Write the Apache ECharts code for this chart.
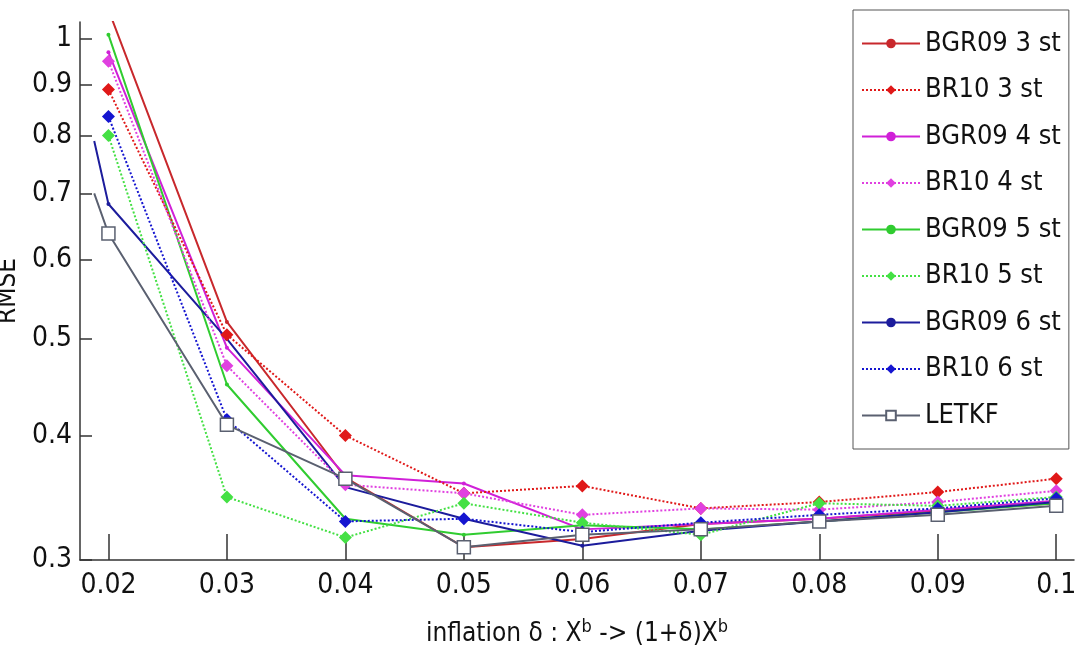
<!DOCTYPE html>
<html>
<head>
<meta charset="utf-8">
<script src="https://cdn.jsdelivr.net/npm/echarts@6/dist/echarts.min.js"></script>
<style>
  html, body { margin: 0; padding: 0; background: #fff; }
  #main { width: 1075px; height: 657px; }
</style>
</head>
<body>
<div id="main"></div>
<script>
// x positions (inflation delta) and tick labels
const xValues = [0.02, 0.03, 0.04, 0.05, 0.06, 0.07, 0.08, 0.09, 0.1];
const xTicks = [0.02, 0.03, 0.04, 0.05, 0.06, 0.07, 0.08, 0.09, 0.1];
const yTicks = [0.3, 0.4, 0.5, 0.6, 0.7, 0.8, 0.9, 1];

// RMSE per method
const bgr09_3 = [1.07, 0.52, 0.363, 0.309, 0.315, 0.326, 0.330, 0.336, 0.342];
const br10_3 = [0.89, 0.505, 0.400, 0.350, 0.356, 0.338, 0.343, 0.351, 0.362];
const bgr09_4 = [0.97, 0.49, 0.365, 0.358, 0.322, 0.326, 0.330, 0.337, 0.344];
const br10_4 = [0.95, 0.47, 0.357, 0.350, 0.333, 0.338, 0.337, 0.343, 0.352];
const bgr09_5 = [1.01, 0.45, 0.330, 0.318, 0.325, 0.322, 0.328, 0.335, 0.342];
const br10_5 = [0.80, 0.347, 0.316, 0.342, 0.327, 0.318, 0.342, 0.340, 0.347];
const bgr09_6 = [0.683, 0.50, 0.355, 0.330, 0.310, 0.321, 0.328, 0.335, 0.343];
const br10_6 = [0.836, 0.415, 0.328, 0.330, 0.320, 0.327, 0.333, 0.338, 0.346];
const letkf = [0.638, 0.41, 0.362, 0.309, 0.318, 0.322, 0.328, 0.333, 0.340];

// two curves start a little left of 0.02 (no marker there)
const leadX = 0.0188;
const bgr09_6Lead = 0.79;
const letkfLead = 0.70;

const font = '"Liberation Sans Narrow", "DejaVu Sans Condensed", "Liberation Sans", Arial, sans-serif';

function pairs(vals) {
  return xValues.map((x, i) => [x, vals[i]]);
}

function withLead(x, y, vals) {
  return [{ value: [x, y], symbol: 'none' }].concat(pairs(vals));
}

function bgrSeries(name, data, color) {
  return {
    name, type: 'line', data,
    symbol: 'circle', symbolSize: 4,
    lineStyle: { color, width: 2, type: 'solid' },
    itemStyle: { color },
    z: 3
  };
}

function brSeries(name, data, color) {
  return {
    name, type: 'line', data,
    symbol: 'diamond', symbolSize: 13,
    lineStyle: { color, width: 2, type: 'dotted' },
    itemStyle: { color },
    z: 4
  };
}

const chart = echarts.init(document.getElementById('main'));

chart.setOption({
  animation: false,
  grid: { left: 80, top: 22, right: 1, bottom: 97, outerBoundsMode: 'none' },
  legend: {
    orient: 'vertical',
    left: 853, top: 10,
    padding: [20, 8, 20, 8],
    backgroundColor: '#fff',
    borderColor: '#555',
    borderWidth: 1,
    borderRadius: 0,
    itemWidth: 58, itemHeight: 12,
    itemGap: 19.5,
    textStyle: { fontFamily: font, fontSize: 27, color: '#111', lineHeight: 26 },
    data: ['BGR09 3 st', 'BR10 3 st', 'BGR09 4 st', 'BR10 4 st', 'BGR09 5 st',
           'BR10 5 st', 'BGR09 6 st', 'BR10 6 st', 'LETKF']
  },
  xAxis: {
    type: 'value',
    min: 0.0176, max: 0.1015,
    name: '{t|inflation δ : X}{s|b}{t| -> (1+δ)X}{s|b}',
    nameLocation: 'middle',
    nameGap: 58,
    nameTextStyle: {
      rich: {
        t: { fontFamily: font, fontSize: 26, color: '#111' },
        s: { fontFamily: font, fontSize: 18, color: '#111', verticalAlign: 'top', padding: [0, 0, 14, 0] }
      }
    },
    axisLine: { lineStyle: { color: '#333', width: 1.5 } },
    axisTick: { inside: true, length: 26, lineStyle: { color: '#333', width: 1.5 }, customValues: xTicks },
    axisLabel: {
      customValues: xTicks,
      fontFamily: font, fontSize: 28, color: '#111', margin: 12,
      formatter: v => String(+v.toFixed(2))
    },
    splitLine: { show: false }
  },
  yAxis: {
    type: 'log',
    logBase: 10,
    min: 0.3, max: 1.04,
    name: 'RMSE',
    nameLocation: 'middle',
    nameGap: 52,
    nameTextStyle: { fontFamily: font, fontSize: 26, color: '#111' },
    axisLine: { show: true, lineStyle: { color: '#333', width: 1.5 } },
    axisTick: { show: true, inside: true, length: 12, lineStyle: { color: '#333', width: 1.5 }, customValues: yTicks },
    axisLabel: {
      customValues: yTicks,
      fontFamily: font, fontSize: 28, color: '#111', margin: 8,
      formatter: v => String(+(+v).toFixed(1))
    },
    splitLine: { show: false },
    minorTick: { show: false }
  },
  series: [
    bgrSeries('BGR09 3 st', pairs(bgr09_3), '#c8282c'),
    brSeries('BR10 3 st', pairs(br10_3), '#e01818'),
    bgrSeries('BGR09 4 st', pairs(bgr09_4), '#d020d8'),
    brSeries('BR10 4 st', pairs(br10_4), '#e040e0'),
    bgrSeries('BGR09 5 st', pairs(bgr09_5), '#30cc30'),
    brSeries('BR10 5 st', pairs(br10_5), '#44e044'),
    bgrSeries('BGR09 6 st', withLead(leadX, bgr09_6Lead, bgr09_6), '#1c1c9c'),
    brSeries('BR10 6 st', pairs(br10_6), '#1515d0'),
    {
      name: 'LETKF', type: 'line',
      data: withLead(leadX, letkfLead, letkf),
      symbol: 'rect', symbolSize: 13,
      lineStyle: { color: '#5a6070', width: 2 },
      itemStyle: { color: '#fff', borderColor: '#5a6070', borderWidth: 1.5 },
      z: 5
    }
  ]
});
</script>
</body>
</html>
